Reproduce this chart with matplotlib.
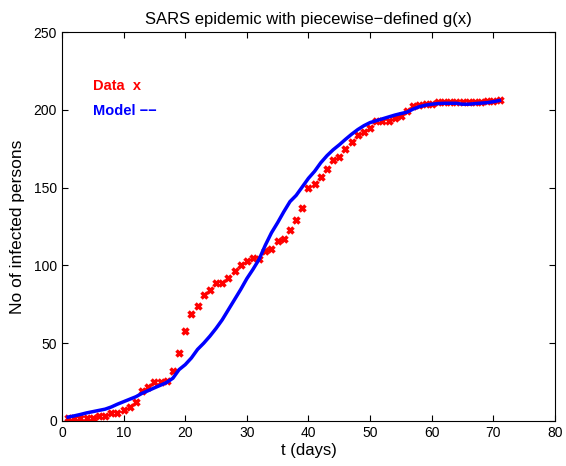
import matplotlib.pyplot as plt
import numpy as np

plt.rcParams['font.family'] = ['Liberation Sans', 'DejaVu Sans']

# observed cumulative infections, one per day
days = np.arange(1, 72)
data = [2, 2, 2, 2, 2, 3, 3, 5, 5, 7,
        9, 12, 19, 22, 25, 25, 26, 32, 44, 58,
        69, 74, 81, 84, 88.5, 89, 92, 96.5, 100.5, 103,
        104.5, 104, 109, 110.5, 115.5, 117, 123, 129, 137, 149.5,
        152, 157, 162, 167.5, 169.5, 174.5, 179, 183.5, 186, 188,
        193, 192.5, 192.5, 194.5, 196, 199, 202.5, 203, 204, 204,
        205, 205, 205, 205, 205, 205, 205, 205, 205.5, 205.5,
        206]

# model curve
model = [2.5, 3.3, 4.2, 5.2, 6, 6.8, 7.6, 9, 10.8, 12.4,
         14, 15.6, 17.8, 19.5, 21.3, 23, 24.8, 27.5, 33, 36.2,
         40.5, 46, 50, 54.5, 59.5, 65, 71.5, 78, 84.5, 91.5,
         97.5, 104, 113, 121, 127.5, 134.5, 141, 145, 150.5, 156,
         160.5, 166, 170.5, 174.3, 177.5, 181, 184.3, 187.3, 189.8, 191.8,
         193, 194.2, 195.4, 196.6, 197.6, 198.5, 200.5, 202, 203, 203.6,
         204, 204.2, 204.2, 204.2, 203.6, 203.6, 204, 204.3, 204.6, 205.2,
         206]

fig = plt.figure(figsize=(5.66, 4.66), dpi=100)
ax = fig.add_axes([0.1095, 0.0966, 0.871, 0.8347])

ax.plot(days, data, 'x', color='red', markersize=5, markeredgewidth=2.5)
ax.plot(days, model, '-', color='blue', linewidth=2.5)

ax.text(5, 215, 'Data  x', color='red', fontweight='bold', fontsize=10.5, va='center')
ax.text(5, 199, 'Model \u2212\u2212', color='blue', fontweight='bold', fontsize=10.5, va='center')

ax.set_xlim(0, 80)
ax.set_ylim(0, 250)
ax.set_xticks(np.arange(0, 81, 10))
ax.set_yticks(np.arange(0, 251, 50))
ax.tick_params(direction='in', top=True, right=True, labelsize=10, length=4)
ax.set_xlabel('t (days)', fontsize=12, labelpad=2)
ax.set_ylabel('No of infected persons', fontsize=12.5, labelpad=6)
ax.set_title('SARS epidemic with piecewise\u2212defined g(x)', fontsize=12, pad=6)

fig.savefig('out.png', dpi=100)
